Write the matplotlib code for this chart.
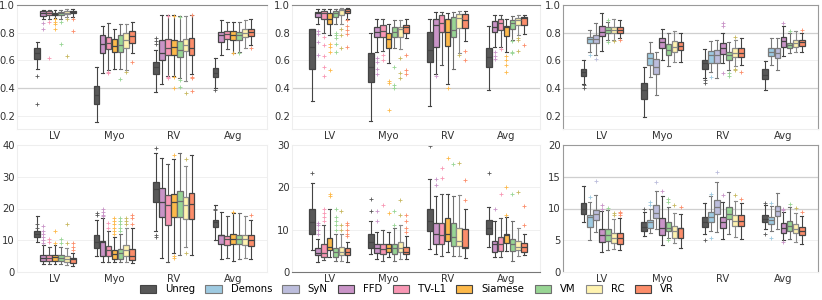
import matplotlib
matplotlib.use("Agg")
import matplotlib.pyplot as plt
from matplotlib.patches import Patch

categories = ["LV", "Myo", "RV", "Avg"]
methods = ["Unreg", "Demons", "SyN", "FFD", "TV-L1", "Siamese", "VM", "RC", "VR"]
colors = {"Unreg": "#585858", "Demons": "#9ecae1", "SyN": "#bcbddc", "FFD": "#c994c7",
          "TV-L1": "#f897b4", "Siamese": "#fdb94a", "VM": "#98d594", "RC": "#fff3b0",
          "VR": "#fc8d6a"}
edges = {"Unreg": "#444444", "Demons": "#7a7a7a", "SyN": "#7a7a7a", "FFD": "#444444",
         "TV-L1": "#555555", "Siamese": "#444444", "VM": "#6f6f6f", "RC": "#8a8a8a",
         "VR": "#444444"}

set_a = ["Unreg", "FFD", "TV-L1", "Siamese", "VM", "RC", "VR"]
set_b = ["Unreg", "Demons", "SyN", "FFD", "VM", "RC", "VR"]

# each entry: (whisker low, q1, median, q3, whisker high) for LV, Myo, RV, Avg
dice_1 = {
    "Unreg":   [(0.535, 0.607, 0.655, 0.687, 0.735), (0.156, 0.284, 0.35, 0.414, 0.55),
                (0.37, 0.50, 0.554, 0.59, 0.675), (0.40, 0.477, 0.506, 0.542, 0.62)],
    "FFD":     [(0.90, 0.923, 0.94, 0.957, 0.965), (0.506, 0.65, 0.715, 0.783, 0.848),
                (0.43, 0.602, 0.655, 0.747, 0.93), (0.64, 0.735, 0.783, 0.807, 0.89)],
    "TV-L1":   [(0.90, 0.93, 0.945, 0.955, 0.965), (0.53, 0.68, 0.727, 0.771, 0.872),
                (0.49, 0.64, 0.69, 0.752, 0.93), (0.68, 0.752, 0.788, 0.814, 0.88)],
    "Siamese": [(0.905, 0.925, 0.935, 0.945, 0.962), (0.54, 0.662, 0.706, 0.752, 0.83),
                (0.49, 0.64, 0.70, 0.747, 0.93), (0.65, 0.747, 0.785, 0.814, 0.88)],
    "VM":      [(0.90, 0.925, 0.94, 0.95, 0.962), (0.54, 0.662, 0.71, 0.783, 0.863),
                (0.47, 0.627, 0.675, 0.74, 0.92), (0.66, 0.747, 0.783, 0.807, 0.88)],
    "RC":      [(0.91, 0.935, 0.945, 0.955, 0.97), (0.53, 0.69, 0.75, 0.795, 0.86),
                (0.45, 0.665, 0.71, 0.755, 0.92), (0.69, 0.77, 0.80, 0.83, 0.89)],
    "VR":      [(0.915, 0.94, 0.95, 0.96, 0.97), (0.65, 0.727, 0.776, 0.812, 0.875),
                (0.50, 0.64, 0.69, 0.76, 0.93), (0.71, 0.775, 0.807, 0.83, 0.90)],
}
dice_1_fliers = {
    "Unreg": [[0.49, 0.285], [], [0.76, 0.74, 0.72], [0.385]],
    "FFD": [[0.87, 0.83], [], [], []],
    "TV-L1": [[0.88, 0.62], [0.52, 0.51], [0.48, 0.47, 0.92], []],
    "Siamese": [[0.9, 0.88, 0.86, 0.83], [], [0.48, 0.40, 0.92], [0.65]],
    "VM": [[0.88, 0.72], [0.465], [0.46, 0.41, 0.915], [0.655]],
    "RC": [[0.9, 0.63], [0.515], [0.365], []],
    "VR": [[0.9, 0.81], [0.59], [0.48, 0.47, 0.38, 0.93], [0.69]],
}

dice_2 = {
    "Unreg":   [(0.31, 0.535, 0.70, 0.83, 0.83), (0.16, 0.446, 0.554, 0.65, 0.80),
                (0.27, 0.59, 0.675, 0.807, 0.90), (0.385, 0.554, 0.622, 0.69, 0.85)],
    "FFD":     [(0.86, 0.916, 0.94, 0.952, 0.97), (0.66, 0.771, 0.807, 0.843, 0.90),
                (0.50, 0.694, 0.855, 0.90, 0.95), (0.70, 0.807, 0.843, 0.884, 0.93)],
    "TV-L1":   [(0.80, 0.896, 0.945, 0.959, 0.97), (0.67, 0.771, 0.81, 0.855, 0.90),
                (0.57, 0.807, 0.872, 0.928, 0.95), (0.70, 0.82, 0.867, 0.90, 0.93)],
    "Siamese": [(0.78, 0.863, 0.90, 0.945, 0.97), (0.58, 0.69, 0.752, 0.795, 0.86),
                (0.43, 0.706, 0.807, 0.896, 0.94), (0.66, 0.778, 0.843, 0.848, 0.90)],
    "VM":      [(0.86, 0.916, 0.945, 0.959, 0.97), (0.69, 0.771, 0.807, 0.843, 0.89),
                (0.54, 0.771, 0.82, 0.916, 0.95), (0.75, 0.83, 0.867, 0.89, 0.92)],
    "RC":      [(0.86, 0.928, 0.964, 0.969, 0.975), (0.68, 0.771, 0.826, 0.843, 0.89),
                (0.65, 0.836, 0.904, 0.935, 0.96), (0.78, 0.855, 0.89, 0.904, 0.93)],
    "VR":      [(0.90, 0.94, 0.96, 0.969, 0.975), (0.76, 0.795, 0.843, 0.855, 0.90),
                (0.74, 0.836, 0.89, 0.935, 0.96), (0.79, 0.855, 0.904, 0.91, 0.93)],
}
dice_2_fliers = {
    "Unreg": [[], [], [], []],
    "FFD": [[0.81, 0.79, 0.73, 0.64], [0.62, 0.59, 0.54, 0.50], [0.49], [0.66, 0.63, 0.61]],
    "TV-L1": [[0.77, 0.71, 0.63, 0.55, 0.49], [0.64, 0.60], [], [0.68]],
    "Siamese": [[0.72, 0.70, 0.66, 0.53], [0.45, 0.44, 0.24], [0.40], [0.63, 0.60, 0.57, 0.52]],
    "VM": [[0.80, 0.78, 0.76, 0.72, 0.66], [0.55, 0.42, 0.40], [], [0.74, 0.66, 0.65]],
    "RC": [[0.83, 0.78, 0.69], [0.62, 0.51, 0.47], [0.64], [0.76, 0.75, 0.67]],
    "VR": [[0.89, 0.85, 0.82, 0.79, 0.70], [0.64, 0.53, 0.50], [0.67, 0.60], [0.71]],
}

dice_3 = {
    "Unreg":  [(0.43, 0.487, 0.518, 0.537, 0.60), (0.195, 0.318, 0.39, 0.434, 0.555),
               (0.47, 0.54, 0.578, 0.60, 0.68), (0.39, 0.463, 0.494, 0.535, 0.595)],
    "Demons": [(0.66, 0.723, 0.752, 0.771, 0.82), (0.48, 0.566, 0.615, 0.65, 0.73),
               (0.52, 0.578, 0.64, 0.67, 0.74), (0.57, 0.631, 0.663, 0.687, 0.76)],
    "SyN":    [(0.64, 0.723, 0.752, 0.783, 0.87), (0.35, 0.50, 0.554, 0.607, 0.66),
               (0.47, 0.578, 0.64, 0.675, 0.75), (0.53, 0.614, 0.65, 0.687, 0.76)],
    "FFD":    [(0.67, 0.776, 0.807, 0.848, 0.94), (0.60, 0.687, 0.735, 0.764, 0.83),
               (0.58, 0.646, 0.69, 0.723, 0.80), (0.63, 0.70, 0.742, 0.771, 0.85)],
    "VM":     [(0.745, 0.80, 0.82, 0.838, 0.88), (0.56, 0.639, 0.675, 0.716, 0.80),
               (0.53, 0.603, 0.64, 0.663, 0.73), (0.65, 0.687, 0.71, 0.728, 0.80)],
    "RC":     [(0.75, 0.80, 0.82, 0.838, 0.90), (0.59, 0.662, 0.70, 0.742, 0.81),
               (0.56, 0.627, 0.657, 0.687, 0.75), (0.66, 0.70, 0.723, 0.747, 0.81)],
    "VR":     [(0.76, 0.80, 0.82, 0.838, 0.89), (0.59, 0.675, 0.706, 0.735, 0.80),
               (0.57, 0.627, 0.657, 0.687, 0.76), (0.66, 0.704, 0.735, 0.747, 0.80)],
}
dice_3_fliers = {
    "Unreg": [[0.42, 0.40], [], [0.46, 0.44], []],
    "Demons": [[0.64], [], [0.48], []],
    "SyN": [[0.61], [], [], []],
    "FFD": [[], [], [0.87, 0.85, 0.51], [0.87]],
    "VM": [[0.895, 0.735], [], [0.51, 0.49], [0.81]],
    "RC": [[0.74], [], [0.77, 0.54, 0.53], []],
    "VR": [[0.745], [], [0.52], [0.82]],
}

hd_1 = {
    "Unreg":   [(9.3, 11.05, 11.9, 12.8, 17.7), (5.0, 7.6, 9.5, 11.6, 16.5),
                (13.0, 21.9, 26.0, 28.4, 37.5), (10.0, 14.2, 15.6, 16.5, 21.0)],
    "FFD":     [(2.5, 3.4, 4.4, 5.5, 8.5), (3.0, 5.0, 9.6, 9.8, 17.0),
                (4.5, 17.4, 22.0, 26.3, 36.0), (4.0, 8.9, 11.6, 11.8, 19.0)],
    "TV-L1":   [(2.6, 3.4, 4.4, 5.5, 8.0), (3.0, 5.05, 6.8, 8.2, 13.0),
                (3.0, 14.7, 21.0, 24.4, 34.0), (4.5, 8.6, 10.5, 11.4, 17.5)],
    "Siamese": [(2.6, 3.4, 4.7, 5.5, 8.5), (3.0, 4.2, 5.8, 6.8, 11.0),
                (6.0, 17.4, 22.1, 24.7, 35.5), (3.5, 8.9, 10.5, 12.1, 18.5)],
    "VM":      [(2.6, 3.4, 4.4, 5.5, 8.0), (3.0, 4.2, 6.1, 7.2, 12.0),
                (5.5, 17.4, 22.3, 25.5, 37.5), (4.0, 8.9, 10.5, 11.8, 18.5)],
    "RC":      [(2.1, 3.2, 4.2, 5.0, 7.5), (3.0, 5.05, 6.8, 8.6, 14.0),
                (8.0, 16.8, 21.0, 23.7, 33.5), (4.5, 8.6, 10.3, 11.8, 17.5)],
    "VR":      [(1.8, 2.9, 4.0, 4.4, 6.0), (2.7, 3.7, 5.05, 7.4, 14.0),
                (5.5, 16.8, 21.3, 25.0, 37.0), (4.0, 8.2, 10.0, 11.6, 16.5)],
}
hd_1_fliers = {
    "Unreg": [[15.0, 14.0], [18.0, 18.5], [39.0, 11.0, 11.5], [20.0, 19.5]],
    "FFD": [[9, 10, 11, 12, 13, 14.5], [17.5, 18, 19, 20], [], []],
    "TV-L1": [[9.5, 10.5], [14, 15.5], [], []],
    "Siamese": [[9, 13], [12, 13, 14, 15, 16, 17], [37, 5, 4.5], [19]],
    "VM": [[9, 10.5], [13, 14, 15, 16, 17], [], []],
    "RC": [[9, 15], [15, 16, 17], [35.5, 6], []],
    "VR": [[7, 8, 9], [15, 17, 18], [], [18]],
}

hd_2 = {
    "Unreg":   [(5.3, 9.0, 11.7, 14.9, 21.0), (4.3, 5.6, 7.1, 8.9, 12.0),
                (5.5, 9.7, 12.0, 14.9, 22.0), (5.8, 8.9, 10.5, 12.3, 15.3)],
    "FFD":     [(2.4, 3.9, 4.6, 5.6, 7.7), (3.0, 4.4, 5.6, 6.6, 9.5),
                (4.3, 6.5, 8.9, 11.5, 18.0), (3.5, 4.8, 6.6, 7.3, 12.0)],
    "TV-L1":   [(2.9, 3.5, 4.6, 6.6, 11.0), (2.6, 4.2, 5.5, 6.6, 10.0),
                (3.8, 6.5, 8.7, 11.5, 18.5), (3.5, 5.0, 6.6, 8.3, 12.8)],
    "Siamese": [(3.5, 5.2, 6.0, 8.1, 15.0), (3.5, 4.8, 5.6, 6.6, 9.5),
                (4.8, 7.3, 9.0, 12.7, 18.5), (5.0, 6.9, 8.7, 9.0, 13.0)],
    "VM":      [(2.5, 3.5, 4.7, 5.6, 9.0), (2.5, 4.2, 5.6, 6.5, 10.5),
                (3.8, 6.1, 8.2, 11.5, 18.0), (2.6, 5.0, 6.6, 7.8, 12.0)],
    "RC":      [(2.5, 4.0, 4.8, 6.0, 9.0), (3.0, 4.8, 5.6, 7.0, 11.0),
                (3.8, 6.1, 7.4, 10.5, 18.3), (3.8, 5.2, 6.0, 7.4, 10.5)],
    "VR":      [(2.4, 3.9, 4.7, 5.6, 7.2), (3.0, 4.2, 4.8, 6.0, 8.5),
                (3.4, 5.6, 5.8, 10.1, 15.0), (4.0, 4.8, 6.0, 6.9, 9.0)],
}
hd_2_fliers = {
    "Unreg": [[23.5], [14.5, 17.3], [29.7], [23.5]],
    "FFD": [[9, 10, 11, 11.5], [12, 14.5], [20.5, 22], [15]],
    "TV-L1": [[12, 13, 14, 15], [15.8], [22.2, 24.6], [18.5]],
    "Siamese": [[18, 18.5], [14], [27], [13.5, 20]],
    "VM": [[10, 11, 12, 13, 15], [11, 14.5], [25.5], [18.4]],
    "RC": [[10, 11, 14.5], [13.5, 17], [25.7], [19]],
    "VR": [[8.5, 9, 10, 11, 11.5], [9.5, 10.5, 12, 13.5], [17, 21.8], [11, 15.5]],
}

hd_3 = {
    "Unreg":  [(7.8, 9.2, 10.0, 10.9, 13.5), (5.6, 6.5, 7.1, 7.8, 9.5),
               (6.0, 7.1, 7.9, 8.6, 10.8), (6.8, 7.8, 8.4, 8.9, 10.5)],
    "Demons": [(5.1, 7.1, 8.6, 8.9, 11.0), (6.2, 7.0, 7.8, 8.2, 10.0),
               (6.5, 7.8, 8.6, 9.5, 12.0), (6.4, 7.6, 8.2, 8.6, 10.4)],
    "SyN":    [(6.3, 8.2, 9.2, 9.8, 12.2), (6.8, 8.5, 9.3, 10.5, 12.7),
               (6.3, 9.2, 10.2, 11.4, 14.2), (6.8, 8.8, 9.6, 10.4, 12.4)],
    "FFD":    [(3.2, 4.8, 5.8, 6.8, 9.6), (4.2, 5.8, 6.9, 8.5, 12.0),
               (5.2, 7.0, 7.8, 8.6, 11.0), (5.0, 6.2, 7.0, 7.7, 9.5)],
    "VM":     [(3.5, 4.9, 5.9, 6.8, 9.8), (5.3, 6.4, 7.0, 7.8, 10.3),
               (6.0, 8.4, 9.2, 10.2, 12.6), (5.2, 6.5, 7.3, 8.0, 10.3)],
    "RC":     [(3.6, 4.6, 5.3, 6.2, 8.4), (4.5, 5.4, 6.4, 7.3, 9.3),
               (5.5, 7.3, 8.1, 8.9, 11.2), (4.8, 6.1, 6.8, 7.5, 9.3)],
    "VR":     [(3.4, 4.4, 5.3, 6.1, 8.5), (3.8, 5.3, 6.9, 6.9, 9.2),
               (5.2, 7.3, 8.0, 8.9, 10.9), (4.4, 5.8, 6.5, 7.1, 8.8)],
}
hd_3_fliers = {
    "Unreg": [[], [10.0], [5.0], [6.0, 10.8]],
    "Demons": [[11.8], [10.5, 11.0], [12.3, 5.3], [10.8, 5.4]],
    "SyN": [[14.3], [14.1], [15.8], []],
    "FFD": [[10.0, 10.5], [12.7], [12.1], [10.0, 9.8, 4.7]],
    "VM": [[10.1], [11.0, 11.5, 5.0], [], [10.7]],
    "RC": [[9.0, 9.3], [10.6], [12.1], [10.1]],
    "VR": [[9.0, 9.3, 9.5], [10.2], [11.5], [9.5]],
}

panels = [
    (dice_1, dice_1_fliers, set_a, (0.105, 1.0), [0.2, 0.4, 0.6, 0.8, 1.0], "{:.1f}"),
    (dice_2, dice_2_fliers, set_a, (0.105, 1.0), [0.2, 0.4, 0.6, 0.8, 1.0], "{:.1f}"),
    (dice_3, dice_3_fliers, set_b, (0.105, 1.0), [0.2, 0.4, 0.6, 0.8, 1.0], "{:.1f}"),
    (hd_1, hd_1_fliers, set_a, (0, 40), [0, 10, 20, 30, 40], "{:.0f}"),
    (hd_2, hd_2_fliers, set_a, (0, 30), [0, 10, 20, 30], "{:.0f}"),
    (hd_3, hd_3_fliers, set_b, (0, 20), [0, 5, 10, 15, 20], "{:.0f}"),
]
strong_grid = [[0.4], [0.4], [0.4, 0.8], [], [], [10, 15]]

fig = plt.figure(figsize=(8.22, 3.0), dpi=100)
lefts = [17, 292, 563]
rights = [267, 540, 818]
rows = [(5, 129), (145, 272)]

for k, (data, fliers, mset, ylim, yticks, fmt) in enumerate(panels):
    r, c = divmod(k, 3)
    x0, x1 = lefts[c] / 822, rights[c] / 822
    yt, yb = rows[r]
    ax = fig.add_axes([x0, 1 - yb / 300, x1 - x0, (yb - yt) / 300])
    ax.set_facecolor("white")
    n = len(mset)
    for yv in yticks:
        ax.axhline(yv, color="#f0f0f0", lw=0.7, zorder=0)
    for yv in strong_grid[k]:
        ax.axhline(yv, color="#cfcfcf", lw=0.9, zorder=0.5)
    for i, m in enumerate(mset):
        stats = []
        for j, cat in enumerate(categories):
            lo, q1, med, q3, hi = data[m][j]
            stats.append(dict(whislo=lo, q1=q1, med=med, q3=q3, whishi=hi,
                              fliers=fliers[m][j], label=cat))
        pos = [j + (i - (n - 1) / 2) * 0.1 for j in range(4)]
        ec = edges[m]
        ax.bxp(stats, positions=pos, widths=0.095, patch_artist=True, manage_ticks=False,
               boxprops=dict(facecolor=colors[m], edgecolor=ec, linewidth=0.9),
               medianprops=dict(color=ec, linewidth=0.9),
               whiskerprops=dict(color=ec, linewidth=0.8),
               capprops=dict(color=ec, linewidth=0.8),
               flierprops=dict(marker="+", markersize=2.5, markeredgewidth=0.6,
                               markeredgecolor=colors[m] if m != "RC" else "#c8b860",
                               linestyle="none"),
               capwidths=0.05)
    ax.set_xlim(-0.64, 3.57)
    ax.set_ylim(*ylim)
    ax.set_xticks(range(4))
    ax.set_xticklabels(categories)
    ax.set_yticks(yticks)
    ax.set_yticklabels([fmt.format(v) for v in yticks])
    ax.tick_params(length=0, labelsize=7.2, colors="#333333", pad=1.5)
    for s in ax.spines.values():
        s.set_color("#eeeeee")
        s.set_linewidth(0.8)
    if r == 0:
        ax.spines["top"].set_color("#8c8c8c")
    if k in (2, 5):
        ax.spines["top"].set_color("#9a9a9a")
        ax.spines["right"].set_color("#9a9a9a")
        ax.spines["left"].set_color("#9a9a9a")
    if k == 4:
        ax.spines["bottom"].set_color("#777777")

handles = [Patch(facecolor=colors[m], edgecolor=edges[m], linewidth=0.8, label=m) for m in methods]
fig.legend(handles=handles, loc="center", bbox_to_anchor=(0.495, 0.035), ncol=9, frameon=False,
           fontsize=7.3, handlelength=1.6, handleheight=0.8, columnspacing=1.0, handletextpad=0.9,
           borderpad=0.2)

fig.savefig("out.png", dpi=100)
